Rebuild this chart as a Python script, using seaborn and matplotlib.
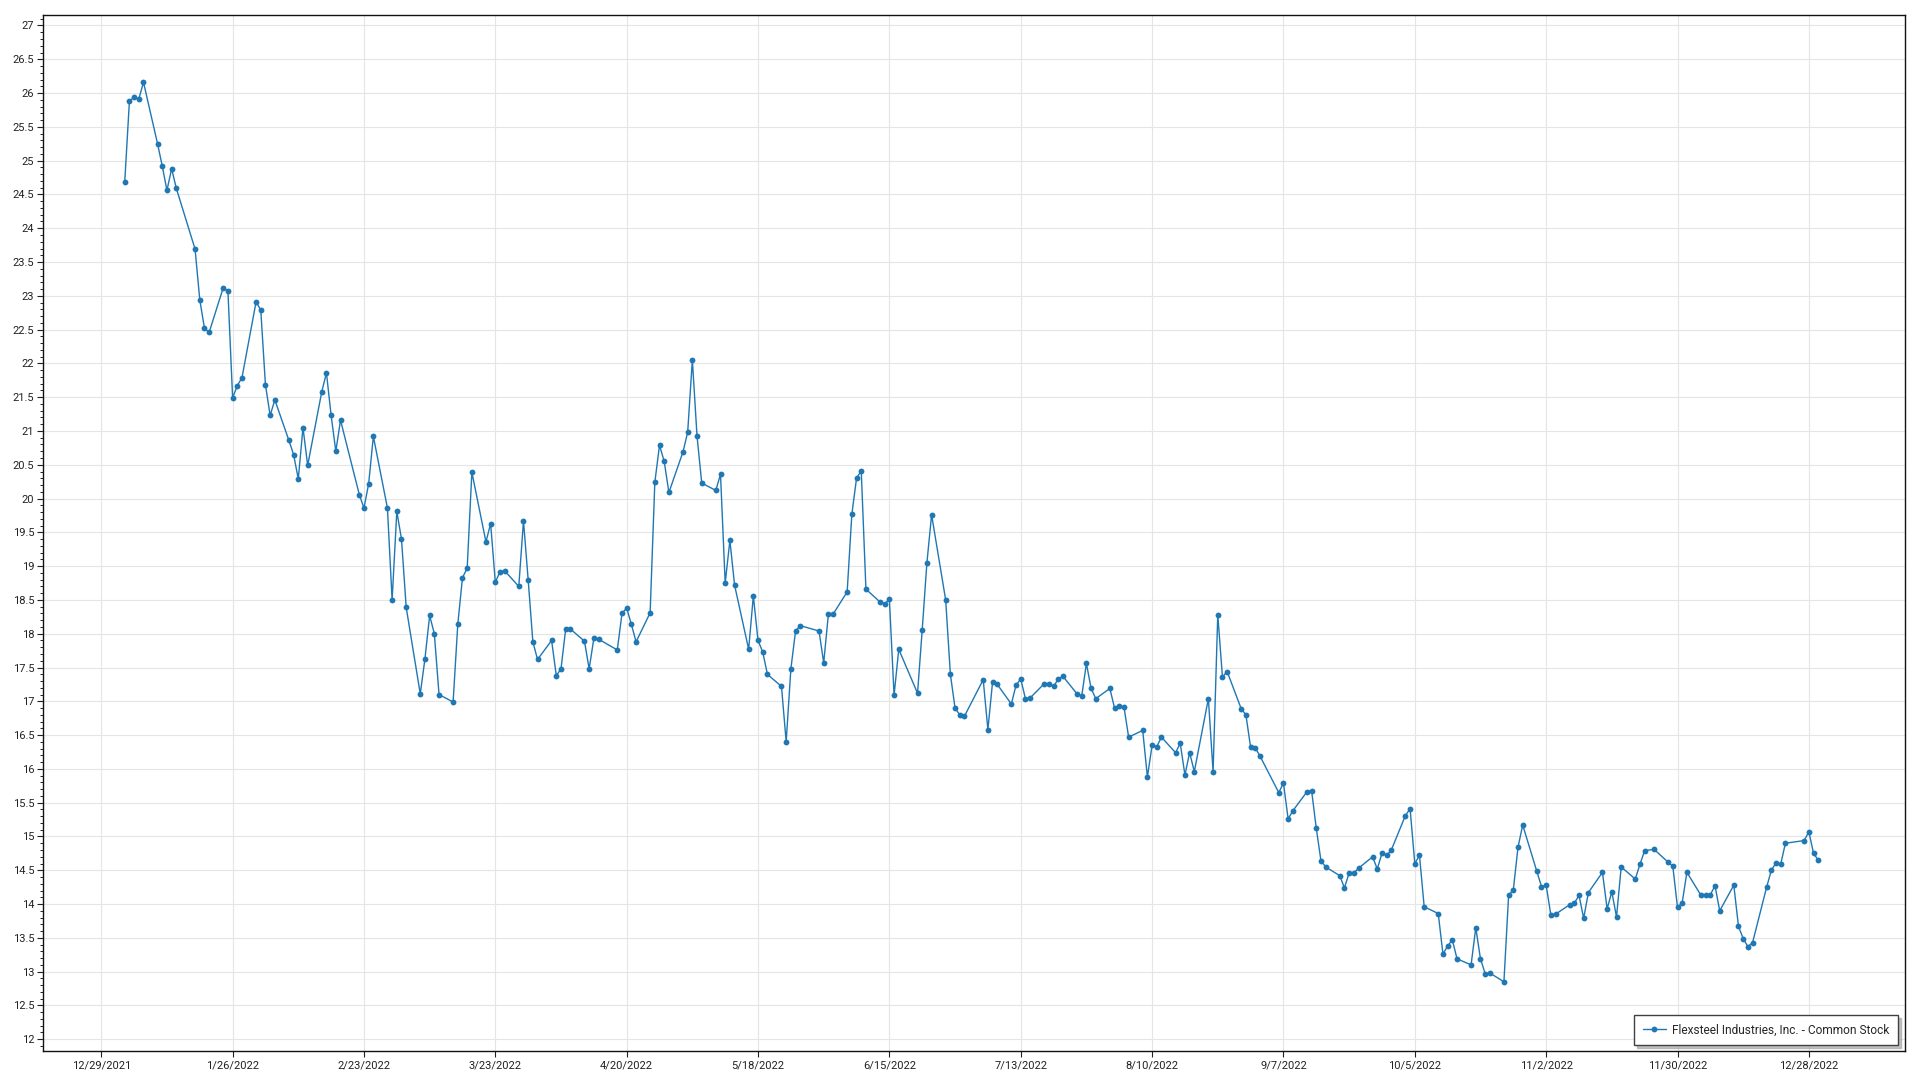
import matplotlib
matplotlib.use("Agg")
import matplotlib.pyplot as plt
from matplotlib.ticker import MultipleLocator, FuncFormatter
import pandas as pd
import seaborn as sns

# ---- data: trading days (day of month) and closing prices per month, 2022 ----
jan_days = [3, 4, 5, 6, 7, 10, 11, 12, 13, 14, 18, 19, 20, 21, 24, 25, 26, 27, 28, 31]
jan_close = [24.68, 25.88, 25.94, 25.91, 26.16, 25.25, 24.92, 24.56, 24.88, 24.59,
             23.69, 22.94, 22.52, 22.46, 23.12, 23.07, 21.49, 21.67, 21.79, 22.91]
feb_days = [1, 2, 3, 4, 7, 8, 9, 10, 11, 14, 15, 16, 17, 18, 22, 23, 24, 25, 28]
feb_close = [22.79, 21.68, 21.23, 21.46, 20.86, 20.65, 20.29, 21.05, 20.49, 21.58,
             21.86, 21.23, 20.70, 21.16, 20.06, 19.86, 20.22, 20.92, 19.86]
mar_days = [1, 2, 3, 4, 7, 8, 9, 10, 11, 14, 15, 16, 17, 18, 21, 22, 23, 24, 25, 28, 29, 30, 31]
mar_close = [18.50, 19.81, 19.40, 18.39, 17.11, 17.63, 18.27, 18.00, 17.10, 16.99,
             18.14, 18.83, 18.97, 20.39, 19.36, 19.63, 18.76, 18.92, 18.93, 18.70,
             19.67, 18.80, 17.88]
apr_days = [1, 4, 5, 6, 7, 8, 11, 12, 13, 14, 18, 19, 20, 21, 22, 25, 26, 27, 28, 29]
apr_close = [17.62, 17.90, 17.38, 17.48, 18.07, 18.07, 17.89, 17.48, 17.93, 17.92,
             17.76, 18.30, 18.38, 18.14, 17.88, 18.31, 20.24, 20.79, 20.55, 20.09]
may_days = [2, 3, 4, 5, 6, 9, 10, 11, 12, 13, 16, 17, 18, 19, 20, 23, 24, 25, 26, 27, 31]
may_close = [20.69, 20.98, 22.05, 20.92, 20.23, 20.12, 20.36, 18.75, 19.38, 18.72,
             17.77, 18.56, 17.90, 17.73, 17.40, 17.22, 16.40, 17.48, 18.04, 18.12, 18.04]
jun_days = [1, 2, 3, 6, 7, 8, 9, 10, 13, 14, 15, 16, 17, 21, 22, 23, 24, 27, 28, 29, 30]
jun_close = [17.57, 18.29, 18.29, 18.62, 19.77, 20.30, 20.41, 18.66, 18.47, 18.44,
             18.51, 17.09, 17.77, 17.12, 18.06, 19.05, 19.76, 18.50, 17.40, 16.90, 16.80]
jul_days = [1, 5, 6, 7, 8, 11, 12, 13, 14, 15, 18, 19, 20, 21, 22, 25, 26, 27, 28, 29]
jul_close = [16.78, 17.32, 16.58, 17.29, 17.25, 16.96, 17.24, 17.33, 17.04, 17.05,
             17.26, 17.26, 17.22, 17.33, 17.37, 17.11, 17.08, 17.56, 17.19, 17.04]
aug_days = [1, 2, 3, 4, 5, 8, 9, 10, 11, 12, 15, 16, 17, 18, 19, 22, 23, 24, 25, 26, 29, 30, 31]
aug_close = [17.19, 16.90, 16.93, 16.92, 16.47, 16.57, 15.88, 16.35, 16.33, 16.47,
             16.24, 16.38, 15.91, 16.24, 15.96, 17.04, 15.96, 18.28, 17.36, 17.44,
             16.89, 16.80, 16.32]
sep_days = [1, 2, 6, 7, 8, 9, 12, 13, 14, 15, 16, 19, 20, 21, 22, 23, 26, 27, 28, 29, 30]
sep_close = [16.31, 16.19, 15.65, 15.79, 15.26, 15.38, 15.66, 15.68, 15.12, 14.64,
             14.55, 14.42, 14.24, 14.46, 14.46, 14.53, 14.70, 14.52, 14.75, 14.72, 14.80]
oct_days = [3, 4, 5, 6, 7, 10, 11, 12, 13, 14, 17, 18, 19, 20, 21, 24, 25, 26, 27, 28, 31]
oct_close = [15.31, 15.41, 14.60, 14.72, 13.96, 13.86, 13.26, 13.38, 13.47, 13.19,
             13.10, 13.65, 13.19, 12.97, 12.98, 12.85, 14.13, 14.21, 14.84, 15.17, 14.49]
nov_days = [1, 2, 3, 4, 7, 8, 9, 10, 11, 14, 15, 16, 17, 18, 21, 22, 23, 25, 28, 29, 30]
nov_close = [14.26, 14.28, 13.84, 13.85, 13.99, 14.01, 14.13, 13.79, 14.17, 14.47,
             13.93, 14.18, 13.81, 14.55, 14.37, 14.59, 14.79, 14.81, 14.62, 14.56, 13.95]
dec_days = [1, 2, 5, 6, 7, 8, 9, 12, 13, 14, 15, 16, 19, 20, 21, 22, 23, 27, 28, 29, 30]
dec_close = [14.02, 14.47, 14.13, 14.13, 14.14, 14.27, 13.90, 14.28, 13.67, 13.49,
             13.37, 13.43, 14.25, 14.50, 14.61, 14.59, 14.90, 14.94, 15.07, 14.75, 14.65]

series_name = "Flexsteel Industries, Inc. - Common Stock"
tick_dates = ["2021-12-29", "2022-01-26", "2022-02-23", "2022-03-23", "2022-04-20",
              "2022-05-18", "2022-06-15", "2022-07-13", "2022-08-10", "2022-09-07",
              "2022-10-05", "2022-11-02", "2022-11-30", "2022-12-28"]

months = [(1, jan_days, jan_close), (2, feb_days, feb_close), (3, mar_days, mar_close),
          (4, apr_days, apr_close), (5, may_days, may_close), (6, jun_days, jun_close),
          (7, jul_days, jul_close), (8, aug_days, aug_close), (9, sep_days, sep_close),
          (10, oct_days, oct_close), (11, nov_days, nov_close), (12, dec_days, dec_close)]
rows = []
for m, days, closes in months:
    for d, c in zip(days, closes):
        rows.append({"date": pd.Timestamp(2022, m, d), "close": c})
df = pd.DataFrame(rows)

# ---- style ----
sns.set_theme(style="white")
plt.rcParams["font.family"] = ["Roboto", "DejaVu Sans"]

fig = plt.figure(figsize=(19.2, 10.8), dpi=100)
ax = fig.add_axes([0.0222, 0.0271, 0.9700, 0.9587])

line_color = "#1f77b4"
sns.lineplot(data=df, x="date", y="close", ax=ax, color=line_color, linewidth=1.0,
             marker="o", markersize=4.2, markeredgewidth=0, label=series_name)

# axes limits
ax.set_xlim(pd.Timestamp("2021-12-16 12:00"), pd.Timestamp("2023-01-17 12:00"))
ax.set_ylim(11.83, 27.15)

# x ticks
tick_ts = [pd.Timestamp(t) for t in tick_dates]
ax.set_xticks(tick_ts)
ax.set_xticklabels([f"{t.month}/{t.day}/{t.year}" for t in tick_ts])

# y ticks
ax.yaxis.set_major_locator(MultipleLocator(0.5))
ax.yaxis.set_minor_locator(MultipleLocator(0.1))
ax.yaxis.set_major_formatter(FuncFormatter(lambda v, p: f"{v:g}"))

ax.tick_params(axis="both", which="major", labelsize=8, colors="#222222",
               direction="out", length=4, width=0.8)
ax.tick_params(axis="y", which="minor", left=True, direction="out", length=2, width=0.7,
               colors="#222222")
ax.tick_params(axis="x", which="major", bottom=True, pad=3)
ax.tick_params(axis="y", which="major", left=True, pad=2)

ax.set_xlabel("")
ax.set_ylabel("")

ax.grid(True, which="major", color="#e5e5e5", linewidth=0.8)
ax.set_axisbelow(True)

for s in ax.spines.values():
    s.set_visible(True)
    s.set_color("#111111")
    s.set_linewidth(1.0)

leg = ax.legend(loc="lower right", bbox_to_anchor=(0.9963, 0.0055), borderaxespad=0,
                frameon=True, fancybox=False,
                shadow={"ox": 2, "oy": -2, "color": "#9a9a9a", "alpha": 0.6},
                fontsize=8.6, borderpad=0.7, handlelength=2.0, handletextpad=0.5)
leg.get_frame().set_edgecolor("#404040")
leg.get_frame().set_linewidth(1.0)
leg.get_frame().set_facecolor("white")

fig.savefig("out.png", dpi=100, facecolor="white")
